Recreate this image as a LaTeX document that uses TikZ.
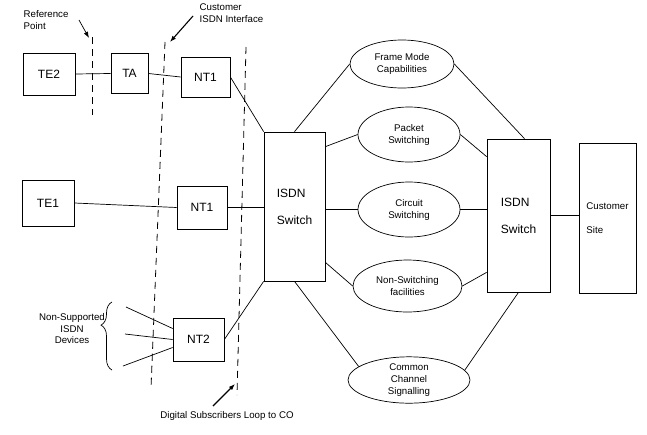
\documentclass[tikz,border=0pt]{standalone}
\usepackage{fontspec}
\setmainfont{Liberation Sans}
\usetikzlibrary{arrows.meta,shapes.geometric,decorations.pathreplacing}

\begin{document}
\begin{tikzpicture}[x=1pt,y=-1pt,line width=0.7pt,>={Latex[length=2.2mm,width=1.6mm]},
  box/.style={draw,rectangle,inner sep=0pt,font=\fontsize{12}{14}\selectfont},
  svc/.style={draw,ellipse,inner sep=0pt,align=center,font=\fontsize{9.7}{12}\selectfont},
  small/.style={font=\fontsize{9.7}{11.5}\selectfont},
  sep/.style={dash pattern=on 7pt off 5pt,line width=0.8pt}]
  \useasboundingbox (0,0) rectangle (647,434);
  % equipos del cliente
  \node[box,minimum width=52pt,minimum height=42pt] (te2) at (49,74) {TE2};
  \node[box,minimum width=37pt,minimum height=40pt] (ta) at (129.5,73.5) {TA};
  \node[box,minimum width=49pt,minimum height=40pt] (nt1a) at (205.5,77) {NT1};
  \node[box,minimum width=52pt,minimum height=46pt] (te1) at (48,203) {TE1};
  \node[box,minimum width=50pt,minimum height=43pt] (nt1b) at (202,207.5) {NT1};
  \node[box,minimum width=51pt,minimum height=43pt] (nt2) at (198.5,339.5) {NT2};
  % centrales y sitio
  \node[box,minimum width=61pt,minimum height=149pt,align=left] (swl) at (294.5,206.5) {ISDN\\[13pt]Switch};
  \node[box,minimum width=63pt,minimum height=153pt,align=left] (swr) at (518.5,215.5) {ISDN\\[13pt]Switch};
  \node[box,minimum width=57pt,minimum height=150pt,align=left,font=\fontsize{9.7}{12}\selectfont] (site) at (607.5,218) {Customer\\[12pt]Site};
  % servicios
  \node[svc,minimum width=104pt,minimum height=48pt] (fm) at (402,64) {Frame Mode\\Capabilities};
  \node[svc,minimum width=102pt,minimum height=55pt] (ps) at (409,134.5) {Packet\\Switching};
  \node[svc,minimum width=102pt,minimum height=55pt] (cs) at (409,209.5) {Circuit\\Switching};
  \node[svc,minimum width=109pt,minimum height=52pt] (ns) at (407.5,286) {Non-Switching\\facilities};
  \node[svc,minimum width=122pt,minimum height=46pt] (cc) at (409,380) {Common\\Channel\\Signalling};
  % enlaces
  \draw (te2.east) -- (ta.west) (ta.east) -- (nt1a.west);
  \draw (te1.east) -- (nt1b.west);
  \draw (nt1a.east) -- (swl.north west);
  \draw (nt1b.east) -- (nt1b.east -| swl.west);
  \draw (nt2.east) -- (swl.south west);
  \draw (swl.north) -- (fm.west);
  \draw ([yshift=-15pt]swl.north east) -- (ps.west);
  \draw (cs.west -| swl.east) -- (cs.west);
  \draw ([yshift=19pt]swl.south east) -- (ns.west);
  \draw (swl.south) -- (cc.165);
  \draw (fm.east) -- ([xshift=6pt]swr.north);
  \draw (ps.east) -- ([yshift=-18pt]swr.north west);
  \draw (cs.east) -- (cs.east -| swr.west);
  \draw (ns.east) -- ([yshift=20pt]swr.south west);
  \draw (cc.10) -- (swr.south);
  \draw (swr.east) -- (swr.east -| site.west);
  % aparatos no soportados
  \coordinate (d1) at (126,307);
  \coordinate (d2) at (125,334);
  \coordinate (d3) at (123,366);
  \draw (d1) -- ([yshift=11pt]nt2.west) (d2) -- (nt2.west) (d3) -- ([yshift=-8pt]nt2.west);
  \draw[decorate,decoration={brace,amplitude=11pt,aspect=0.66}] (112,370) -- (112,302);
  \node[small,align=center] (nsd) at (72,329) {Non-Supported\\ISDN\\Devices};
  % lineas de referencia
  \draw[sep] (92,37) -- (92,115);
  \draw[sep] (165,42) -- (151,388);
  \draw[sep] (246,47) -- (237,395);
  \node[small,align=left,anchor=west] (rp) at (20,20) {Reference\\Point};
  \node[small,align=left,anchor=west] (cii) at (196,13) {Customer\\ISDN Interface};
  \node[small] (dsl) at (227,416) {Digital Subscribers Loop to CO};
  \coordinate (rpa) at (79,20);
  \coordinate (rpb) at (89,38);
  \coordinate (cia) at (193,16);
  \coordinate (cib) at (170,42);
  \coordinate (dla) at (213,406);
  \coordinate (dlb) at (235,384);
  \draw[->] (rpa) -- (rpb);
  \draw[->,line width=1.1pt] (cia) -- (cib);
  \draw[->,line width=1.1pt] (dla) -- (dlb);
\end{tikzpicture}
\end{document}
